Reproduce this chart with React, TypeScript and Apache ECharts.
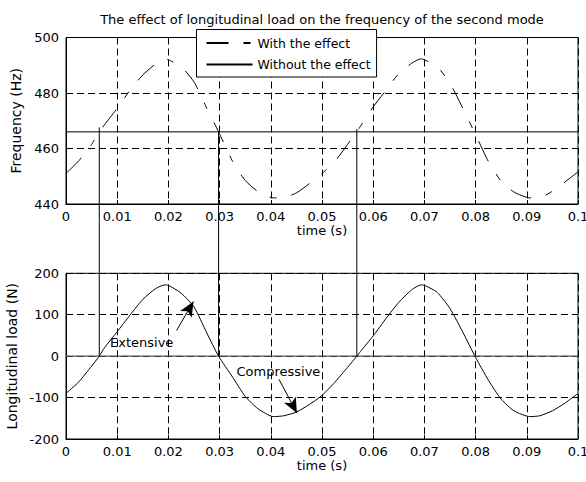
import React, { useEffect, useRef } from "react";
import * as echarts from "echarts";

// ---- Data ----
const TIME = [
  0, 0.0025, 0.005, 0.0065, 0.0075, 0.01, 0.0125, 0.015, 0.0175, 0.0193, 0.02,
  0.0225, 0.025, 0.0275, 0.0298, 0.0325, 0.035, 0.0375, 0.0405, 0.0425, 0.045,
  0.0475, 0.05, 0.0525, 0.055, 0.0568, 0.0575, 0.06, 0.0625, 0.065, 0.0675,
  0.0693, 0.07, 0.0725, 0.075, 0.0775, 0.08, 0.0825, 0.085, 0.0875, 0.0906,
  0.0925, 0.095, 0.0975, 0.1,
];

// Frequency of the second mode, with the effect of longitudinal load (Hz)
const FREQ_WITH = [
  451, 455.6, 461.5, 466, 468.5, 474.5, 481, 486.5, 490.5, 492.3, 492,
  489.5, 484, 474.5, 466, 455.5, 448.5, 444.5, 442.2, 442.3, 444,
  447.3, 451, 455.3, 461.5, 466, 468, 475, 481, 487, 490.7,
  492.3, 492, 489.5, 483.5, 474.5, 465, 455.3, 448.2, 444.3, 442.2,
  442.3, 444.6, 448, 451.6,
];

// Frequency without the effect (Hz)
const FREQ_WITHOUT = 466;

// Longitudinal load (N)
const LOAD = [
  -90, -62, -24, 0, 20, 59, 99, 137, 163, 172, 171,
  152, 119, 56, 0, -50, -97, -127, -146, -144, -135,
  -117, -95, -63, -27, 0, 11, 49, 91, 130, 160,
  172, 171, 154, 115, 58, -3, -58, -104, -132, -146,
  -144, -132, -113, -90,
];

// Vertical connector lines (time where load crosses zero, frequency at top end)
const CONNECT_T = [0.0065, 0.0298, 0.0568];
const CONNECT_F = [467.6, 466, 467];

// Annotations (in load-plot data coordinates)
const ANNOT_TEXT = ["Extensive", "Compressive"];
const ANNOT_POS = [
  [0.0086, 34],
  [0.0333, -37],
];
const ARROW_TAIL = [
  [0.0216, 62],
  [0.0416, -56],
];
const ARROW_TIP = [
  [0.0249, 132],
  [0.0451, -137],
];

const TITLE = "The effect of longitudinal load on the frequency of the second mode";
const FONT = "DejaVu Sans";

function xAxis(gridIndex: number) {
  return {
    type: "value",
    gridIndex,
    min: 0,
    max: 0.1,
    interval: 0.01,
    name: "time (s)",
    nameLocation: "middle",
    nameGap: 18,
    nameTextStyle: { color: "#000", fontFamily: FONT, fontSize: 13 },
    axisLine: { show: true, onZero: false, lineStyle: { color: "#000", width: 1 } },
    axisTick: { show: true, inside: true, length: 4, lineStyle: { color: "#000" } },
    axisLabel: {
      color: "#000",
      fontFamily: FONT,
      fontSize: 13,
      margin: 6,
      showMinLabel: true,
      showMaxLabel: true,
      hideOverlap: false,
      formatter: (v: number) => String(Number(v.toFixed(3))),
    },
    splitLine: { show: true, lineStyle: { color: "#000", type: [7, 4], width: 1 } },
  };
}

function yAxis(gridIndex: number, name: string, min: number, max: number, interval: number) {
  return {
    type: "value",
    gridIndex,
    min,
    max,
    interval,
    name,
    nameLocation: "middle",
    nameGap: 40,
    nameTextStyle: { color: "#000", fontFamily: FONT, fontSize: 14 },
    axisLine: { show: true, onZero: false, lineStyle: { color: "#000", width: 1 } },
    axisTick: { show: true, inside: true, length: 4, lineStyle: { color: "#000" } },
    axisLabel: { color: "#000", fontFamily: FONT, fontSize: 13, margin: 7 },
    splitLine: { show: true, lineStyle: { color: "#000", type: [7, 4], width: 1 } },
  };
}

const gridBase = {
  left: 66,
  width: 512,
  show: true,
  borderColor: "#000",
  borderWidth: 1,
  backgroundColor: "transparent",
  containLabel: false,
  outerBoundsMode: "none",
};

export default function App() {
  const ref = useRef<HTMLDivElement>(null);

  useEffect(() => {
    if (!ref.current) return;
    const chart = echarts.init(ref.current, undefined, { renderer: "svg" });

    const option: any = {
      animation: false,
      backgroundColor: "#fff",
      grid: [
        { ...gridBase, top: 37.5, height: 166.5 },
        { ...gridBase, top: 273.3, height: 165.7 },
      ],
      xAxis: [xAxis(0), xAxis(1)],
      yAxis: [
        yAxis(0, "Frequency (Hz)", 440, 500, 20),
        yAxis(1, "Longitudinal load (N)", -200, 200, 100),
      ],
      legend: {
        data: ["With the effect", "Without the effect"],
        orient: "vertical",
        left: 196.5,
        top: 29.5,
        padding: [7, 6, 6, 9],
        itemWidth: 46,
        itemHeight: 14,
        itemGap: 8.5,
        backgroundColor: "#fff",
        borderColor: "#000",
        borderWidth: 1,
        borderRadius: 0,
        selectedMode: false,
        itemStyle: { color: "transparent", opacity: 0, borderWidth: 0 },
        textStyle: { color: "#000", fontFamily: FONT, fontSize: 12.5 },
      },
      series: [
        {
          name: "With the effect",
          type: "line",
          xAxisIndex: 0,
          yAxisIndex: 0,
          data: TIME.map((t, i) => [t, FREQ_WITH[i]]),
          symbol: "none",
          smooth: 0.2,
          silent: true,
          lineStyle: { color: "#000", width: 1, type: [22, 15, 7, 15] },
          itemStyle: { color: "#000" },
        },
        {
          name: "Without the effect",
          type: "line",
          xAxisIndex: 0,
          yAxisIndex: 0,
          data: [
            [0, FREQ_WITHOUT],
            [0.1, FREQ_WITHOUT],
          ],
          symbol: "none",
          silent: true,
          lineStyle: { color: "#000", width: 1, type: "solid" },
          itemStyle: { color: "#000" },
        },
        {
          name: "Longitudinal load",
          type: "line",
          xAxisIndex: 1,
          yAxisIndex: 1,
          data: TIME.map((t, i) => [t, LOAD[i]]),
          symbol: "none",
          smooth: 0.2,
          silent: true,
          lineStyle: { color: "#000", width: 1 },
          itemStyle: { color: "#000" },
          markLine: {
            silent: true,
            animation: false,
            symbol: ["none", "arrow"],
            symbolSize: [10, 15],
            label: { show: false },
            lineStyle: { color: "#000", width: 1, type: "solid" },
            emphasis: { disabled: true },
            data: ARROW_TAIL.map((tail, i) => [{ coord: tail }, { coord: ARROW_TIP[i] }]),
          },
        },
        {
          name: "Zero load",
          type: "line",
          xAxisIndex: 1,
          yAxisIndex: 1,
          data: [
            [0, 0],
            [0.1, 0],
          ],
          symbol: "none",
          silent: true,
          lineStyle: { color: "#555", width: 1.3 },
          itemStyle: { color: "#555" },
        },
      ],
    };

    chart.setOption(option);

    const elements: any[] = [
      {
        type: "text",
        x: 322,
        y: 19.5,
        silent: true,
        style: {
          text: TITLE,
          fontFamily: FONT,
          fontSize: 13,
          fill: "#000",
          align: "center",
          verticalAlign: "middle",
        },
      },
    ];

    CONNECT_T.forEach((t, i) => {
      const p1 = chart.convertToPixel({ xAxisIndex: 0, yAxisIndex: 0 } as any, [t, CONNECT_F[i]]) as number[];
      const p2 = chart.convertToPixel({ xAxisIndex: 1, yAxisIndex: 1 } as any, [t, 0]) as number[];
      elements.push({
        type: "line",
        silent: true,
        z: 10,
        shape: { x1: p1[0], y1: p1[1], x2: p2[0], y2: p2[1] },
        style: { stroke: "#000", lineWidth: 1 },
      });
    });

    ANNOT_TEXT.forEach((txt, i) => {
      const p = chart.convertToPixel({ xAxisIndex: 1, yAxisIndex: 1 } as any, ANNOT_POS[i]) as number[];
      elements.push({
        type: "text",
        x: p[0],
        y: p[1],
        silent: true,
        z: 10,
        style: {
          text: txt,
          fontFamily: FONT,
          fontSize: 13,
          fill: "#000",
          align: "left",
          verticalAlign: "middle",
        },
      });
    });

    chart.setOption({ graphic: { elements } });

    return () => {
      chart.dispose();
    };
  }, []);

  return (
    <div
      ref={ref}
      style={{ position: "fixed", left: 0, top: 0, width: 586, height: 482, background: "#fff" }}
    />
  );
}
